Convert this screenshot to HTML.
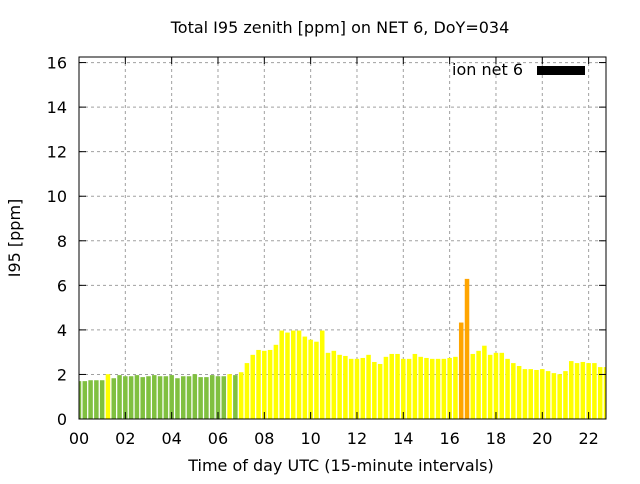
<!DOCTYPE html>
<html><head><meta charset="utf-8"><style>
body{margin:0;background:#fff;font-family:"DejaVu Sans","Liberation Sans",sans-serif;}
svg text{font-family:"DejaVu Sans","Liberation Sans",sans-serif;font-size:16px;fill:#000;}
</style></head><body>
<svg id="chart" width="640" height="480">
<text x="340" y="33" text-anchor="middle">Total I95 zenith [ppm] on NET 6, DoY=034</text>
<text x="341" y="471" text-anchor="middle">Time of day UTC (15-minute intervals)</text>
<text transform="translate(20,238) rotate(-90)" text-anchor="middle">I95 [ppm]</text>
<g id="grid"></g><g id="bars"></g><g id="axes"></g>
<text x="523" y="75" text-anchor="end">ion net 6</text>
<rect x="537" y="66" width="48" height="9" fill="#000"/>
</svg>
<script>
const values=[1.70,1.70,1.74,1.74,1.74,2.01,1.83,1.97,1.92,1.92,1.97,1.88,1.92,1.97,1.92,1.92,1.97,1.83,1.92,1.92,2.01,1.88,1.88,1.97,1.92,1.92,2.01,1.97,2.10,2.51,2.88,3.10,3.06,3.10,3.33,3.97,3.88,3.97,3.97,3.70,3.56,3.47,3.97,2.97,3.06,2.88,2.83,2.70,2.70,2.74,2.88,2.56,2.47,2.79,2.92,2.92,2.70,2.70,2.92,2.79,2.74,2.70,2.70,2.70,2.74,2.79,4.33,6.29,2.92,3.06,3.29,2.88,2.97,2.97,2.70,2.51,2.38,2.24,2.24,2.20,2.24,2.15,2.06,2.01,2.15,2.60,2.51,2.56,2.51,2.51,2.33,2.33];
const levels=["g","g","g","g","g","y","g","g","g","g","g","g","g","g","g","g","g","g","g","g","g","g","g","g","g","g","y","g"];
const xTicks=["00","02","04","06","08","10","12","14","16","18","20","22"];
const yTicks=[0,2,4,6,8,10,12,14,16];
const L=79,R=606,T=57,B=419;
const xmax=22.75, ymax=16.25;
const xs=h=>L+h/xmax*(R-L);
const ys=v=>B-v/ymax*(B-T);
const NS="http://www.w3.org/2000/svg";
function mk(tag,attrs,parent){const e=document.createElementNS(NS,tag);for(const k in attrs)e.setAttribute(k,attrs[k]);parent.appendChild(e);return e;}
const grid=document.getElementById('grid'),bars=document.getElementById('bars'),axes=document.getElementById('axes');
const colors={g:"#80c040",y:"#ffff00",o:"#ffa500"};
const bw=(R-L)/xmax*0.25*0.78;
values.forEach((v,i)=>{
  const cx=xs(i*0.25);
  let c=levels[i]||"y"; if(v>4.2) c="o";
  const x0=Math.max(L,cx-bw/2), x1=Math.min(R,cx+bw/2);
  const r=mk('rect',{x:x0,y:ys(v),width:Math.max(0,x1-x0),height:B-ys(v),fill:colors[c]},bars);
  
  
});
yTicks.forEach(t=>{
  const y=ys(t);
  if(t>0){const g=mk('line',{x1:L,x2:R,y1:y,y2:y,stroke:"#a0a0a0","stroke-dasharray":"3,3"},grid);
  }
  mk('line',{x1:L,x2:L+7,y1:y,y2:y,stroke:"#000"},axes);
  mk('line',{x1:R,x2:R-7,y1:y,y2:y,stroke:"#000"},axes);
  const tx=mk('text',{x:L-12,y:y+6,"text-anchor":"end"},axes);tx.textContent=t;
  
});
xTicks.forEach((t,i)=>{
  const x=xs(i*2);
  if(i>0){const g=mk('line',{x1:x,x2:x,y1:T,y2:B,stroke:"#a0a0a0","stroke-dasharray":"3,3"},grid);
  }
  mk('line',{x1:x,x2:x,y1:B,y2:B-7,stroke:"#000"},axes);
  mk('line',{x1:x,x2:x,y1:T,y2:T+7,stroke:"#000"},axes);
  const tx=mk('text',{x:x,y:B+25,"text-anchor":"middle"},axes);tx.textContent=t;
  
});
const fr=mk('rect',{x:L,y:T,width:R-L,height:B-T,fill:"none",stroke:"#000"},axes);


</script>
</body></html>
